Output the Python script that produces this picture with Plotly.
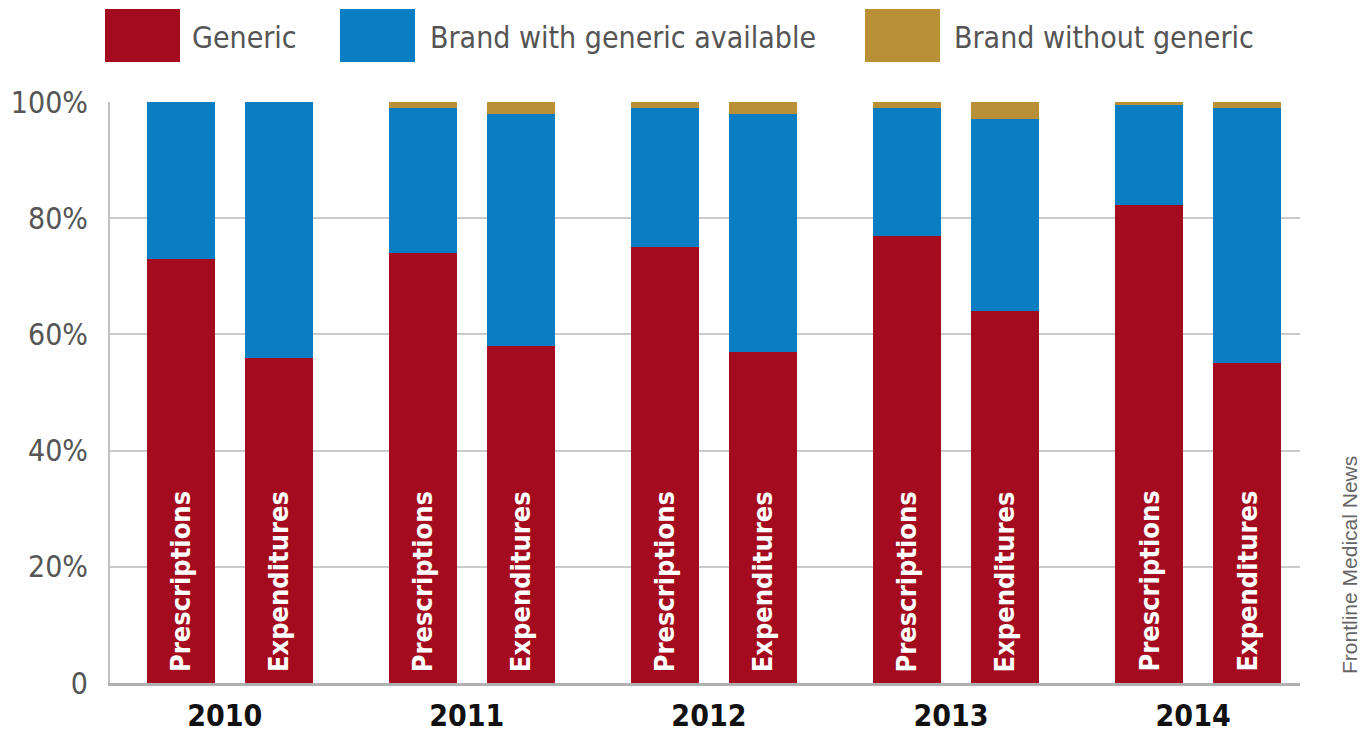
import plotly.graph_objects as go

years = ["2010", "2011", "2012", "2013", "2014"]
measures = ["Prescriptions", "Expenditures"]
series_names = ["Generic", "Brand with generic available", "Brand without generic"]

generic_rx = [73, 74, 75, 77, 82.3]
generic_exp = [56, 58, 57, 64, 55]
brand_gen_rx = [27, 25, 24, 22, 17.2]
brand_gen_exp = [44, 40, 41, 33, 44]
brand_nogen_rx = [0, 1, 1, 1, 0.5]
brand_nogen_exp = [0, 2, 2, 3, 1]

colors = ["#A40B1E", "#0A7DC3", "#B98F37"]
COND = "Liberation Sans Narrow, DejaVu Sans Condensed, Arial Narrow, sans-serif"

G = 2.47  # group spacing in bar-slot units
xs, labels = [], []
gen, bwg, bwo = [], [], []
for i, y in enumerate(years):
    for j, m in enumerate(measures):
        xs.append(i * G + j)
        labels.append(m)
    gen += [generic_rx[i], generic_exp[i]]
    bwg += [brand_gen_rx[i], brand_gen_exp[i]]
    bwo += [brand_nogen_rx[i], brand_nogen_exp[i]]

fig = go.Figure()
for name, vals, c in zip(series_names, [gen, bwg, bwo], colors):
    fig.add_trace(go.Bar(x=xs, y=vals, name=name, marker=dict(color=c, line=dict(width=0)),
                         width=0.694, showlegend=False))

# rotated labels inside the bars
for x, lab in zip(xs, labels):
    fig.add_annotation(x=x, y=0, xref="x", yref="y", text=lab, textangle=-90,
                       showarrow=False, xanchor="center", yanchor="bottom", yshift=9,
                       font=dict(family=COND, size=27, color="white", weight="bold"))

# plot area in pixels
L, R, T, B = 110, 1300, 102, 683
def px(x):
    return (x - L) / (R - L)
def py(y):
    return (B - y) / (B - T)

# manual legend (large squares)
leg = [(105, 180, 190), (340, 415, 428), (865, 940, 952)]
for (x0, x1, tx), name, c in zip(leg, series_names, colors):
    fig.add_shape(type="rect", xref="paper", yref="paper", x0=px(x0), x1=px(x1),
                  y0=py(62), y1=py(9), fillcolor=c, line=dict(width=0))
    fig.add_annotation(xref="paper", yref="paper", x=px(tx), y=py(38), text=name,
                       showarrow=False, xanchor="left", yanchor="middle",
                       font=dict(family=COND, size=30, color="#555555"))

fig.add_annotation(xref="paper", yref="paper", x=px(1349), y=py(565), text="Frontline Medical News",
                   textangle=-90, showarrow=False, xanchor="center", yanchor="middle",
                   font=dict(family="Liberation Sans, Arial, sans-serif", size=21, color="#666666"))

fig.update_layout(
    barmode="stack",
    width=1360, height=736,
    margin=dict(l=L, r=1360 - R, t=T, b=736 - B, autoexpand=False),
    plot_bgcolor="white", paper_bgcolor="white",
    xaxis=dict(range=[-0.72, 4 * G + 1 + 0.54], tickvals=[i * G + 0.45 for i in range(5)],
               ticktext=years, showgrid=False, zeroline=False, showline=True, automargin=False,
               linecolor="#b0b0b0", linewidth=3, ticks="", ticklabelstandoff=4,
               tickfont=dict(family=COND, size=30, color="#111111", weight="bold")),
    yaxis=dict(range=[0, 100], tickvals=[0, 20, 40, 60, 80, 100],
               ticktext=["0", "20%", "40%", "60%", "80%", "100%"],
               showgrid=True, gridcolor="#c9c9c9", gridwidth=2, zeroline=False,
               showline=True, linecolor="#c0c0c0", linewidth=2, automargin=False,
               ticks="", ticklabelstandoff=14,
               tickfont=dict(family=COND, size=30, color="#555555")),
)

fig.write_html("out.html")
